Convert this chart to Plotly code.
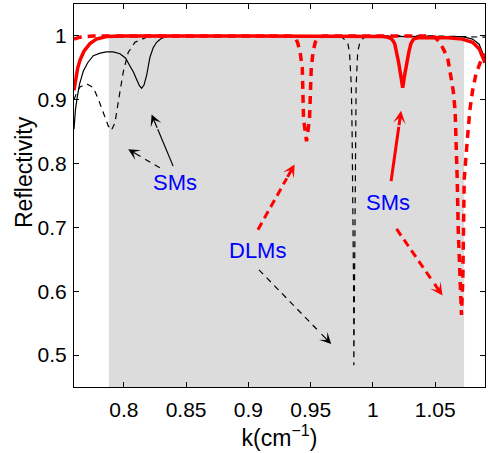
import math
import plotly.graph_objects as go

# ---------------- data ----------------
k_black_solid = [0.760, 0.7612, 0.7625, 0.7645, 0.7675, 0.771, 0.7755, 0.781, 0.786, 0.7915,
                 0.7969, 0.8015, 0.8049, 0.8078, 0.8102, 0.8125, 0.8143, 0.8162, 0.8183, 0.8198,
                 0.8209, 0.8235, 0.8263, 0.830, 0.8343, 0.840, 0.850, 0.900, 0.950, 1.000,
                 1.040, 1.060, 1.072, 1.080, 1.0853, 1.088, 1.090]
r_black_solid = [0.854, 0.885, 0.903, 0.925, 0.945, 0.958, 0.969, 0.973, 0.975, 0.975,
                 0.972, 0.965, 0.953, 0.943, 0.932, 0.922, 0.918, 0.923, 0.938, 0.953,
                 0.966, 0.981, 0.990, 0.996, 0.999, 1.000, 1.000, 1.000, 1.000, 1.000,
                 1.000, 1.000, 0.999, 0.995, 0.987, 0.974, 0.965]

k_black_dash = [0.760, 0.7625, 0.7648, 0.7702, 0.7755, 0.7795, 0.7835, 0.7875, 0.7900, 0.7929,
                0.7955, 0.7995, 0.8035, 0.8089, 0.8183, 0.830, 0.900, 0.950, 0.9745, 0.978,
                0.980, 0.9812, 0.982, 0.9827, 0.9833, 0.984, 0.9845, 0.9847, 0.9852, 0.9856,
                0.986, 0.9865, 0.9872, 0.9878, 0.9892, 0.9915, 0.9945, 1.000, 1.050, 1.090]
r_black_dash = [0.900, 0.913, 0.920, 0.925, 0.919, 0.901, 0.880, 0.859, 0.852, 0.864,
                0.896, 0.943, 0.974, 0.990, 0.998, 1.000, 1.000, 1.000, 0.999, 0.993,
                0.987, 0.975, 0.950, 0.920, 0.850, 0.750, 0.600, 0.484, 0.600, 0.750,
                0.850, 0.920, 0.950, 0.975, 0.987, 0.995, 0.999, 1.000, 1.000, 0.998]

k_red_solid = [0.760, 0.7615, 0.763, 0.765, 0.768, 0.7728, 0.778, 0.786, 0.800, 0.900,
               1.000, 1.008, 1.012, 1.0152, 1.0175, 1.019, 1.0205, 1.0222, 1.0239, 1.0256,
               1.0273, 1.0289, 1.0305, 1.0326, 1.036, 1.040, 1.050, 1.060, 1.0717, 1.080,
               1.0853, 1.088, 1.090]
r_red_solid = [0.915, 0.935, 0.950, 0.963, 0.976, 0.988, 0.995, 0.999, 1.000, 1.000,
               1.000, 0.999, 0.998, 0.995, 0.988, 0.975, 0.960, 0.940, 0.919, 0.940,
               0.960, 0.975, 0.988, 0.995, 0.997, 0.997, 0.997, 0.997, 0.995, 0.990,
               0.980, 0.967, 0.958]

k_red_dash = [0.760, 0.765, 0.775, 0.850, 0.934, 0.9375, 0.9395, 0.9415, 0.9433, 0.9443,
              0.9467, 0.9491, 0.9505, 0.952, 0.9537, 0.956, 0.960, 1.000, 1.045, 1.050,
              1.0546, 1.060, 1.0626, 1.0645, 1.066, 1.0667, 1.0677, 1.0685, 1.0698, 1.0711,
              1.0722, 1.0727, 1.0733, 1.0755, 1.0778, 1.080, 1.0827, 1.0867, 1.090]
r_red_dash = [0.995, 0.998, 1.000, 1.000, 1.000, 0.997, 0.990, 0.975, 0.950, 0.870,
              0.835, 0.870, 0.950, 0.975, 0.990, 0.997, 1.000, 1.000, 1.000, 0.998,
              0.987, 0.966, 0.940, 0.914, 0.883, 0.850, 0.775, 0.697, 0.618, 0.563,
              0.618, 0.697, 0.775, 0.830, 0.883, 0.914, 0.940, 0.961, 0.972]

x_ticks = [0.8, 0.85, 0.9, 0.95, 1.0, 1.05]
x_ticklabels = ["0.8", "0.85", "0.9", "0.95", "1", "1.05"]
y_ticks = [0.5, 0.6, 0.7, 0.8, 0.9, 1.0]
y_ticklabels = ["0.5", "0.6", "0.7", "0.8", "0.9", "1"]

band_k = [0.788, 1.0732]
band_r = [0.45, 0.999]

labels_text = ["SMs", "DLMs", "SMs"]
labels_k = [0.8409, 0.9074, 1.0124]
labels_r = [0.7697, 0.6635, 0.739]

# arrows: (tail k, tail r, head k, head r, color, dashed, width)
arrows = [
    (0.8396, 0.796, 0.8223, 0.877, "black", False, 1.2),
    (0.8289, 0.7936, 0.8035, 0.8223, "black", True, 1.2),
    (0.9077, 0.6965, 0.9371, 0.7987, "red", True, 3.0),
    (0.9085, 0.6336, 0.9665, 0.5173, "black", True, 1.2),
    (1.0146, 0.7725, 1.0226, 0.8826, "red", False, 3.0),
    (1.0190, 0.6976, 1.0559, 0.5932, "red", True, 3.0),
]

X_RANGE = [0.76, 1.09]
Y_RANGE = [0.45, 1.05]
W, H = 488, 453
ML, MR, MT, MB = 74, 3, 4, 66
FONT = "Liberation Sans, Arial, Helvetica, sans-serif"

sx = (W - ML - MR) / (X_RANGE[1] - X_RANGE[0])
sy = (H - MT - MB) / (Y_RANGE[1] - Y_RANGE[0])

fig = go.Figure()
fig.add_trace(go.Scatter(x=k_black_solid, y=r_black_solid, mode="lines",
                         line=dict(color="black", width=1.2)))
fig.add_trace(go.Scatter(x=k_black_dash, y=r_black_dash, mode="lines",
                         line=dict(color="black", width=1.2, dash="6px,5px")))
fig.add_trace(go.Scatter(x=k_red_dash, y=r_red_dash, mode="lines",
                         line=dict(color="red", width=3.5, dash="8px,6px")))
fig.add_trace(go.Scatter(x=k_red_solid, y=r_red_solid, mode="lines",
                         line=dict(color="red", width=3.5)))

shapes = [dict(type="rect", xref="x", yref="y", x0=band_k[0], x1=band_k[1],
               y0=band_r[0], y1=band_r[1], fillcolor="#DCDCDC",
               line=dict(width=0), layer="below")]
annotations = []
for (tk, tr, hk, hr, col, dashed, w) in arrows:
    L = math.hypot((tk - hk) * sx, (tr - hr) * sy)
    f = 16.0 / L
    sk = hk + f * (tk - hk)
    sr = hr + f * (tr - hr)
    dash = "solid"
    if dashed:
        dash = "6px,5px" if col == "black" else "8px,5px"
    shapes.append(dict(type="line", xref="x", yref="y", x0=tk, y0=tr, x1=sk, y1=sr,
                       line=dict(color=col, width=w, dash=dash)))
    annotations.append(dict(x=hk, y=hr, ax=sk, ay=sr, xref="x", yref="y", axref="x", ayref="y",
                            text="", showarrow=True, arrowhead=3, arrowcolor=col,
                            arrowwidth=w, arrowsize=(1.6 if w < 2 else 0.7), standoff=0,
                            startstandoff=0))
for t, kx, ry in zip(labels_text, labels_k, labels_r):
    annotations.append(dict(x=kx, y=ry, xref="x", yref="y", text=t, showarrow=False,
                            font=dict(family=FONT, size=22, color="#0000FF")))
annotations.append(dict(x=-0.122, y=0.561, xref="paper", yref="paper", text="Reflectivity",
                        xanchor="center", yanchor="middle",
                        textangle=-90, showarrow=False,
                        font=dict(family=FONT, size=23, color="black")))

fig.update_layout(
    width=W, height=H,
    margin=dict(l=ML, r=MR, t=MT, b=MB),
    paper_bgcolor="white", plot_bgcolor="white",
    showlegend=False,
    shapes=shapes, annotations=annotations,
    font=dict(family=FONT, color="black"),
    xaxis=dict(range=X_RANGE, tickvals=x_ticks, ticktext=x_ticklabels,
               ticks="inside", ticklen=5, tickcolor="black", showline=True,
               linecolor="black", linewidth=1, mirror="ticks", showgrid=False,
               zeroline=False, tickfont=dict(size=21), ticklabelstandoff=4,
               title=dict(text="k(cm<sup>−1</sup>)", font=dict(size=23), standoff=4)),
    yaxis=dict(range=Y_RANGE, tickvals=y_ticks, ticktext=y_ticklabels,
               ticks="inside", ticklen=5, tickcolor="black", showline=True,
               linecolor="black", linewidth=1, mirror="ticks", showgrid=False,
               zeroline=False, tickfont=dict(size=21), ticklabelstandoff=2),
)

fig.write_html("out.html")
